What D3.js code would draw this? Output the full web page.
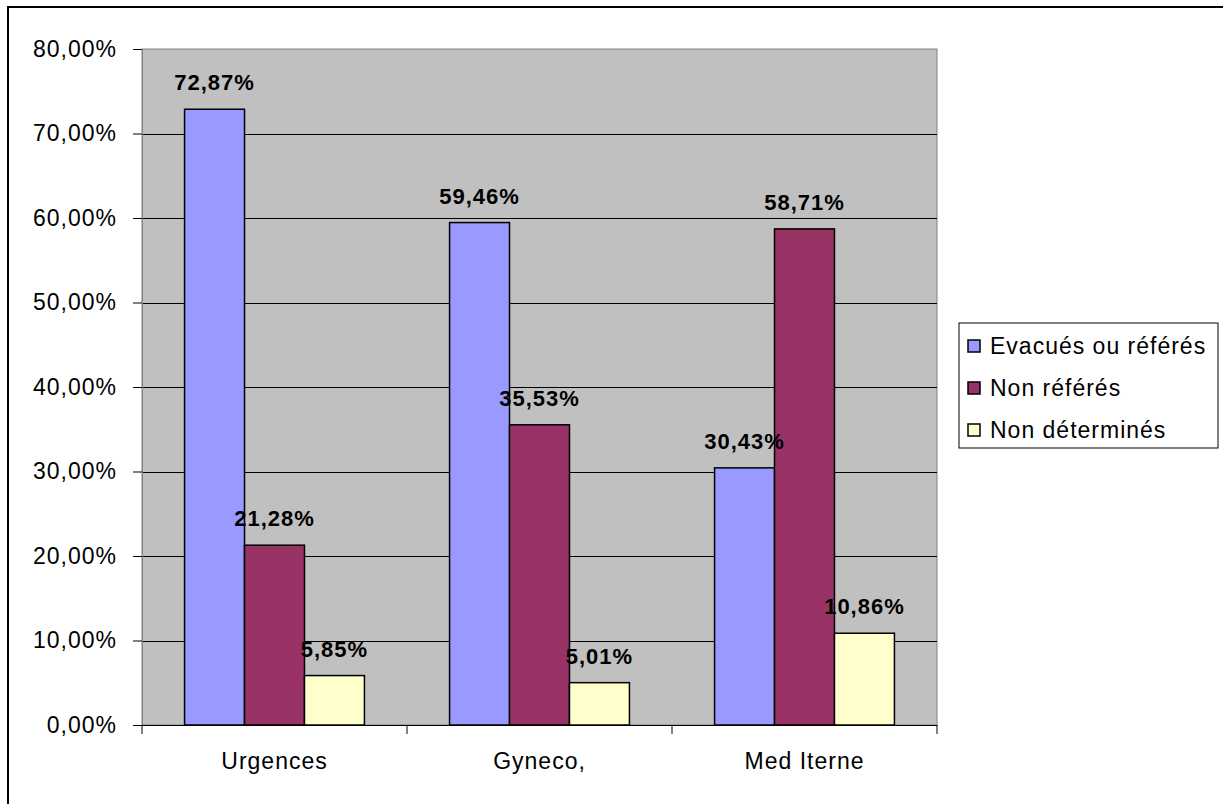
<!DOCTYPE html>
<html>
<head>
<meta charset="utf-8">
<script src="https://cdn.jsdelivr.net/npm/d3@7"></script>
<style>
  body { margin: 0; background: #fff; }
  svg { display: block; font-family: Arial, "Liberation Sans", sans-serif; }
</style>
</head>
<body>
<div id="chart"></div>
<script>
// data
var categories = ["Urgences", "Gyneco,", "Med Iterne"];
var seriesNames = ["Evacués ou référés", "Non référés", "Non déterminés"];
var evacues = [72.87, 59.46, 30.43];
var nonReferes = [21.28, 35.53, 58.71];
var nonDetermines = [5.85, 5.01, 10.86];
var yTicks = [0, 10, 20, 30, 40, 50, 60, 70, 80];

var colors = ["#9999FF", "#993366", "#FFFFCC"];
var series = [evacues, nonReferes, nonDetermines];

var width = 1223, height = 804;
var plot = { left: 142, right: 937, top: 49, bottom: 725 };

var svg = d3.select("#chart")
    .append("svg")
    .attr("width", width)
    .attr("height", height);

// outer frame (only top/left visible)
svg.append("rect")
    .attr("x", 8).attr("y", 7)
    .attr("width", width + 20).attr("height", height + 20)
    .attr("fill", "#fff")
    .attr("stroke", "#000")
    .attr("stroke-width", 2);

// scales
var x0 = d3.scaleBand()
    .domain(categories)
    .range([plot.left, plot.right]);

var x1 = d3.scaleBand()
    .domain(d3.range(seriesNames.length))
    .range([0, x0.bandwidth()])
    .paddingOuter(0.71)
    .paddingInner(0);

var y = d3.scaleLinear()
    .domain([0, 80])
    .range([plot.bottom, plot.top]);

var fmt = function (v) { return v.toFixed(2).replace(".", ",") + "%"; };

// plot background
svg.append("rect")
    .attr("x", plot.left).attr("y", plot.top)
    .attr("width", plot.right - plot.left)
    .attr("height", plot.bottom - plot.top)
    .attr("fill", "#C0C0C0")
    .attr("stroke", "#808080")
    .attr("stroke-width", 1);

// grid lines
svg.append("g")
    .selectAll("line")
    .data(yTicks.filter(function (d) { return d > 0 && d < 80; }))
    .enter()
    .append("line")
    .attr("x1", plot.left).attr("x2", plot.right)
    .attr("y1", function (d) { return Math.round(y(d)) + 0.5; })
    .attr("y2", function (d) { return Math.round(y(d)) + 0.5; })
    .attr("stroke", "#000")
    .attr("stroke-width", 1);

// bars
var groups = svg.append("g")
    .selectAll("g")
    .data(categories)
    .enter()
    .append("g")
    .attr("transform", function (d) { return "translate(" + x0(d) + ",0)"; });

groups.selectAll("rect")
    .data(function (d, i) {
        return series.map(function (s, j) { return { j: j, v: s[i] }; });
    })
    .enter()
    .append("rect")
    .attr("x", function (d) { return x1(d.j); })
    .attr("y", function (d) { return y(d.v); })
    .attr("width", x1.bandwidth())
    .attr("height", function (d) { return y(0) - y(d.v); })
    .attr("fill", function (d) { return colors[d.j]; })
    .attr("stroke", "#000")
    .attr("stroke-width", 1.5);

// value labels
groups.selectAll("text")
    .data(function (d, i) {
        return series.map(function (s, j) { return { j: j, v: s[i] }; });
    })
    .enter()
    .append("text")
    .attr("x", function (d) { return x1(d.j) + x1.bandwidth() / 2; })
    .attr("y", function (d) { return y(d.v) - 19; })
    .attr("text-anchor", "middle")
    .style("font-size", "22px")
    .style("font-weight", "bold")
    .style("letter-spacing", "1px")
    .text(function (d) { return fmt(d.v); });

// y axis
var yAxis = svg.append("g")
    .attr("transform", "translate(" + plot.left + ",0)")
    .call(d3.axisLeft(y)
        .tickValues(yTicks)
        .tickSize(9)
        .tickPadding(16)
        .tickFormat(function (d) { return d.toFixed(2).replace(".", ",") + "%"; }));
yAxis.select(".domain").attr("stroke", "#808080");
yAxis.selectAll("text")
    .style("font-size", "23px")
    .style("font-family", "Arial, 'Liberation Sans', sans-serif")
    .style("letter-spacing", "1px")
    .attr("fill", "#000");

// x axis
var xAxis = svg.append("g")
    .attr("transform", "translate(0," + plot.bottom + ")");
xAxis.append("line")
    .attr("x1", plot.left).attr("x2", plot.right)
    .attr("y1", 0.5).attr("y2", 0.5)
    .attr("stroke", "#000");
xAxis.selectAll(".tick")
    .data(d3.range(categories.length + 1))
    .enter()
    .append("line")
    .attr("x1", function (i) { return plot.left + i * x0.step(); })
    .attr("x2", function (i) { return plot.left + i * x0.step(); })
    .attr("y1", 0).attr("y2", 9)
    .attr("stroke", "#000");
xAxis.selectAll("text")
    .data(categories)
    .enter()
    .append("text")
    .attr("x", function (d) { return x0(d) + x0.bandwidth() / 2; })
    .attr("y", 44)
    .attr("text-anchor", "middle")
    .style("font-size", "23px")
    .style("letter-spacing", "1px")
    .text(function (d) { return d; });

// legend
var legend = svg.append("g")
    .attr("transform", "translate(959,323)");
legend.append("rect")
    .attr("width", 259).attr("height", 125)
    .attr("fill", "#fff")
    .attr("stroke", "#000")
    .attr("stroke-width", 1);

var items = legend.selectAll(".item")
    .data(seriesNames)
    .enter()
    .append("g")
    .attr("class", "item")
    .attr("transform", function (d, i) { return "translate(0," + (23 + i * 42) + ")"; });

items.append("rect")
    .attr("x", 9).attr("y", -6)
    .attr("width", 12).attr("height", 12)
    .attr("fill", function (d, i) { return colors[i]; })
    .attr("stroke", "#000")
    .attr("stroke-width", 1.5);

items.append("text")
    .attr("x", 31)
    .attr("y", 8)
    .style("font-size", "23px")
    .style("letter-spacing", "1px")
    .text(function (d) { return d; });
</script>
</body>
</html>
